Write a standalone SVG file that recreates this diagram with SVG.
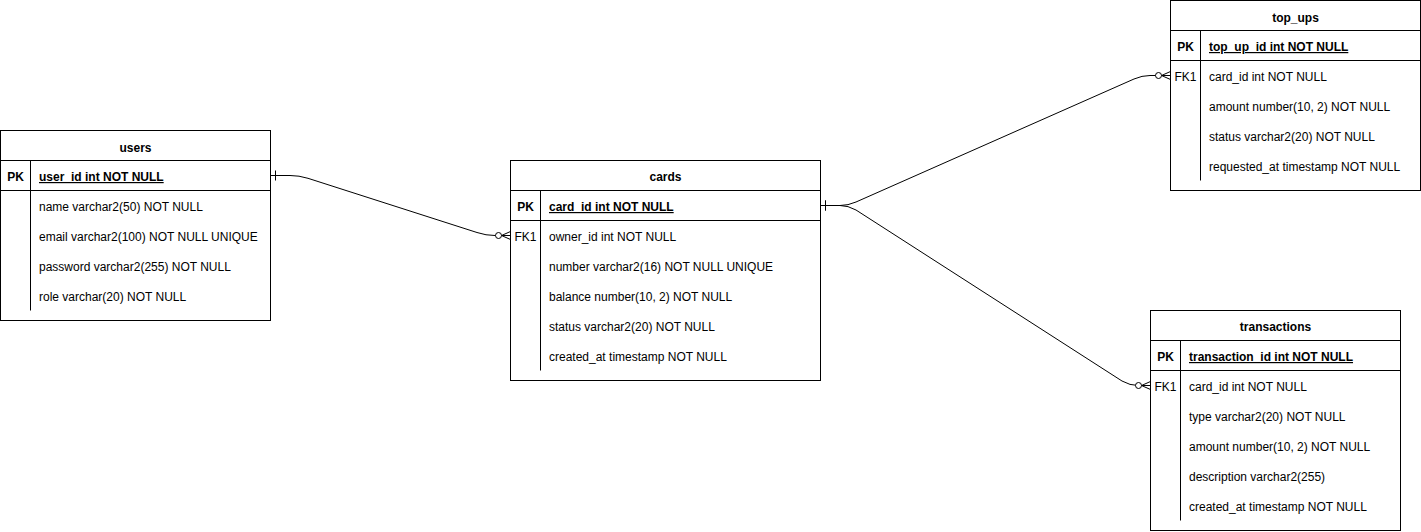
<svg xmlns="http://www.w3.org/2000/svg" width="1421" height="532" viewBox="0 0 1421 532">
<style>
.box{fill:#fff;stroke:#000;stroke-width:1}
.ln{fill:none;stroke:#000;stroke-width:1}
text{font-family:"Liberation Sans",Arial,sans-serif;font-size:12px;fill:#000}
.t{font-weight:bold;text-anchor:middle}
.k{font-weight:bold;text-anchor:middle}
.fk{text-anchor:middle}
.pk{font-weight:bold;text-decoration:underline}
.edge{fill:none;stroke:#000;stroke-width:1}
</style>
<defs>
<marker id="zeroMany" markerUnits="userSpaceOnUse" viewBox="-16 -6 17 12" refX="0" refY="0" markerWidth="17" markerHeight="12" orient="auto">
<path d="M-9,0 L0,-4 M-9,0 L0,4 M-9,0 L0,0" fill="none" stroke="#000" stroke-width="1"/>
<circle cx="-12" cy="0" r="3" fill="#fff" stroke="#000" stroke-width="1"/>
</marker>
<marker id="one" markerUnits="userSpaceOnUse" viewBox="0 -6 8 12" refX="0" refY="0" markerWidth="8" markerHeight="12" orient="auto">
<path d="M5,-5 L5,5" fill="none" stroke="#000" stroke-width="1"/>
</marker>
</defs>

<g id="connectors">
<path class="edge" marker-start="url(#one)" marker-end="url(#zeroMany)" d="M270.5,175.5 L290,175.5 Q299,175.5 308,178.3 L477,232.5 Q486,235.5 495,235.5 L510.5,235.5"/>
<path class="edge" marker-start="url(#one)" marker-end="url(#zeroMany)" d="M820.5,205.5 L840,205.5 Q848,205.5 856,202 L1134,79 Q1142,75.5 1150,75.5 L1170.5,75.5"/>
<path class="edge" marker-start="url(#one)" marker-end="url(#zeroMany)" d="M820.5,205.5 L840,205.5 Q848,205.5 856,210 L1122,381 Q1130,385.5 1138,385.5 L1150.5,385.5"/>
</g>

<g id="users">
<rect class="box" x="0.5" y="130.5" width="270" height="190"/>
<path class="ln" d="M0.5,160.5 H270.5 M0.5,190.5 H270.5 M30.5,160.5 V310.5"/>
<text class="t" x="135.5" y="151.5">users</text>
<text class="k" x="15.5" y="181">PK</text>
<text class="pk" x="39" y="181">user_id int NOT NULL</text>
<text x="39" y="211">name varchar2(50) NOT NULL</text>
<text x="39" y="241">email varchar2(100) NOT NULL UNIQUE</text>
<text x="39" y="271">password varchar2(255) NOT NULL</text>
<text x="39" y="301">role varchar(20) NOT NULL</text>
</g>

<g id="cards">
<rect class="box" x="510.5" y="160.5" width="310" height="220"/>
<path class="ln" d="M510.5,190.5 H820.5 M510.5,220.5 H820.5 M540.5,190.5 V370.5"/>
<text class="t" x="665.5" y="181">cards</text>
<text class="k" x="525.5" y="211">PK</text>
<text class="pk" x="549" y="211">card_id int NOT NULL</text>
<text class="fk" x="525.5" y="241">FK1</text>
<text x="549" y="241">owner_id int NOT NULL</text>
<text x="549" y="271">number varchar2(16) NOT NULL UNIQUE</text>
<text x="549" y="301">balance number(10, 2) NOT NULL</text>
<text x="549" y="331">status varchar2(20) NOT NULL</text>
<text x="549" y="361">created_at timestamp NOT NULL</text>
</g>

<g id="top_ups">
<rect class="box" x="1170.5" y="0.5" width="250" height="190"/>
<path class="ln" d="M1170.5,30.5 H1420.5 M1170.5,60.5 H1420.5 M1200.5,30.5 V180.5"/>
<text class="t" x="1295.5" y="21.5">top_ups</text>
<text class="k" x="1185.5" y="51">PK</text>
<text class="pk" x="1209" y="51">top_up_id int NOT NULL</text>
<text class="fk" x="1185.5" y="81">FK1</text>
<text x="1209" y="81">card_id int NOT NULL</text>
<text x="1209" y="111">amount number(10, 2) NOT NULL</text>
<text x="1209" y="141">status varchar2(20) NOT NULL</text>
<text x="1209" y="171">requested_at timestamp NOT NULL</text>
</g>

<g id="transactions">
<rect class="box" x="1150.5" y="310.5" width="250" height="220"/>
<path class="ln" d="M1150.5,340.5 H1400.5 M1150.5,370.5 H1400.5 M1180.5,340.5 V520.5"/>
<text class="t" x="1275.5" y="331">transactions</text>
<text class="k" x="1165.5" y="361">PK</text>
<text class="pk" x="1189" y="361">transaction_id int NOT NULL</text>
<text class="fk" x="1165.5" y="391">FK1</text>
<text x="1189" y="391">card_id int NOT NULL</text>
<text x="1189" y="421">type varchar2(20) NOT NULL</text>
<text x="1189" y="451">amount number(10, 2) NOT NULL</text>
<text x="1189" y="481">description varchar2(255)</text>
<text x="1189" y="511">created_at timestamp NOT NULL</text>
</g>
</svg>
